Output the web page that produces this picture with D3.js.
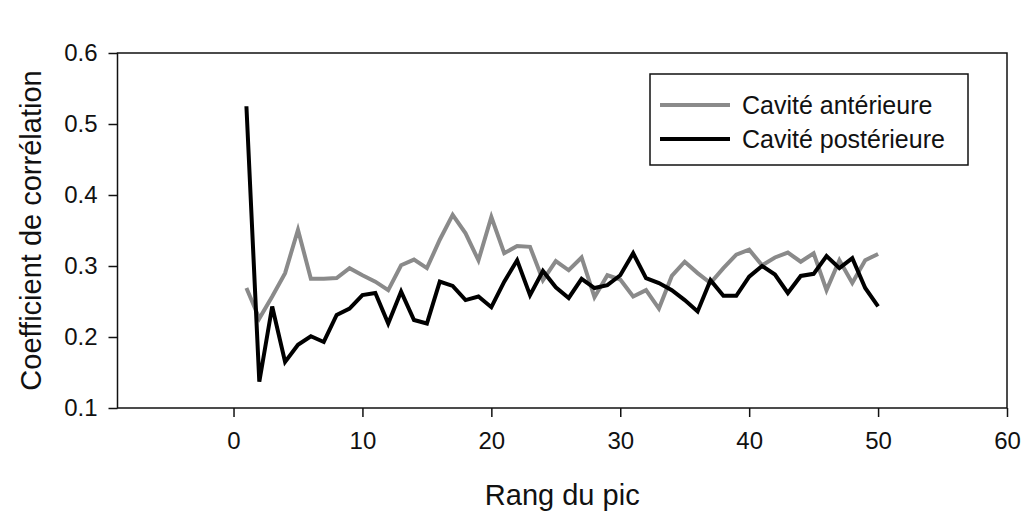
<!DOCTYPE html>
<html>
<head>
<meta charset="utf-8">
<script src="https://cdn.jsdelivr.net/npm/d3@7"></script>
<style>
  html, body { margin: 0; padding: 0; background: #fff; }
  svg { display: block; }
  text { font-family: "Liberation Sans", Arial, sans-serif; fill: #111; }
</style>
</head>
<body>
<svg id="chart" width="1021" height="513"></svg>
<script>
// Peak rank (1..50)
const ranks = d3.range(1, 51);

// Correlation coefficient, anterior cavity
const anterieure = [
  0.269, 0.226, 0.257, 0.290, 0.351, 0.282, 0.282, 0.283, 0.297, 0.287,
  0.278, 0.266, 0.301, 0.309, 0.297, 0.337, 0.372, 0.346, 0.308, 0.369,
  0.318, 0.328, 0.327, 0.280, 0.307, 0.294, 0.312, 0.256, 0.287, 0.281,
  0.257, 0.266, 0.240, 0.286, 0.306, 0.290, 0.276, 0.297, 0.316, 0.323,
  0.301, 0.312, 0.319, 0.306, 0.318, 0.266, 0.308, 0.276, 0.308, 0.317
];

// Correlation coefficient, posterior cavity
const posterieure = [
  0.525, 0.137, 0.243, 0.165, 0.189, 0.201, 0.193, 0.231, 0.240, 0.259,
  0.262, 0.219, 0.264, 0.224, 0.219, 0.278, 0.272, 0.252, 0.257, 0.242,
  0.278, 0.308, 0.259, 0.293, 0.270, 0.255, 0.282, 0.269, 0.273, 0.287,
  0.318, 0.283, 0.276, 0.266, 0.252, 0.236, 0.280, 0.258, 0.258, 0.285,
  0.300, 0.288, 0.262, 0.286, 0.289, 0.314, 0.297, 0.311, 0.269, 0.243
];

const xTicks = [0, 10, 20, 30, 40, 50, 60];
const yTicks = [0.1, 0.2, 0.3, 0.4, 0.5, 0.6];

const series = [
  { name: "Cavité antérieure", values: anterieure, color: "#8a8a8a" },
  { name: "Cavité postérieure", values: posterieure, color: "#000000" }
];

const svg = d3.select("#chart");
const plot = { left: 117.5, right: 1007, top: 53, bottom: 408 };

const x = d3.scaleLinear().domain([-9, 60]).range([plot.left, plot.right]);
const y = d3.scaleLinear().domain([0.1, 0.6]).range([plot.bottom, plot.top]);

// plot frame
svg.append("rect")
  .attr("x", plot.left).attr("y", plot.top)
  .attr("width", plot.right - plot.left).attr("height", plot.bottom - plot.top)
  .attr("fill", "none").attr("stroke", "#111").attr("stroke-width", 1.5);

// x axis
const xAxis = svg.append("g")
  .attr("transform", `translate(0,${plot.bottom})`)
  .call(d3.axisBottom(x).tickValues(xTicks).tickFormat(d3.format("d")).tickSizeOuter(0).tickSize(9).tickPadding(15));
xAxis.select(".domain").remove();
xAxis.selectAll("line").attr("stroke", "#111").attr("stroke-width", 1.5);
xAxis.selectAll("text").style("font-size", "24px").attr("fill", "#111");

// y axis
const yAxis = svg.append("g")
  .attr("transform", `translate(${plot.left},0)`)
  .call(d3.axisLeft(y).tickValues(yTicks).tickFormat(d3.format(".1f")).tickSizeOuter(0).tickSize(9).tickPadding(11));
yAxis.select(".domain").remove();
yAxis.selectAll("line").attr("stroke", "#111").attr("stroke-width", 1.5);
yAxis.selectAll("text").style("font-size", "24px").attr("fill", "#111");

// axis titles
svg.append("text")
  .attr("x", (plot.left + plot.right) / 2).attr("y", 505)
  .attr("text-anchor", "middle")
  .style("font-size", "29px")
  .text("Rang du pic");

svg.append("text")
  .attr("transform", `translate(41,${(plot.top + plot.bottom) / 2}) rotate(-90)`)
  .attr("text-anchor", "middle")
  .style("font-size", "29px")
  .text("Coefficient de corrélation");

// lines
const line = d3.line()
  .x((d, i) => x(ranks[i]))
  .y(d => y(d));

series.forEach(s => {
  svg.append("path")
    .datum(s.values)
    .attr("fill", "none")
    .attr("stroke", s.color)
    .attr("stroke-width", 4)
    .attr("stroke-linejoin", "miter")
    .attr("d", line);
});

// legend
const legend = svg.append("g").attr("transform", "translate(650,74)");
legend.append("rect")
  .attr("width", 318).attr("height", 91)
  .attr("fill", "#fff").attr("stroke", "#111").attr("stroke-width", 1.5);
series.forEach((s, i) => {
  const ly = 31 + i * 34;
  legend.append("line")
    .attr("x1", 10).attr("x2", 80)
    .attr("y1", ly).attr("y2", ly)
    .attr("stroke", s.color).attr("stroke-width", 4);
  legend.append("text")
    .attr("x", 92).attr("y", ly + 9)
    .style("font-size", "25px")
    .text(s.name);
});
</script>
</body>
</html>
